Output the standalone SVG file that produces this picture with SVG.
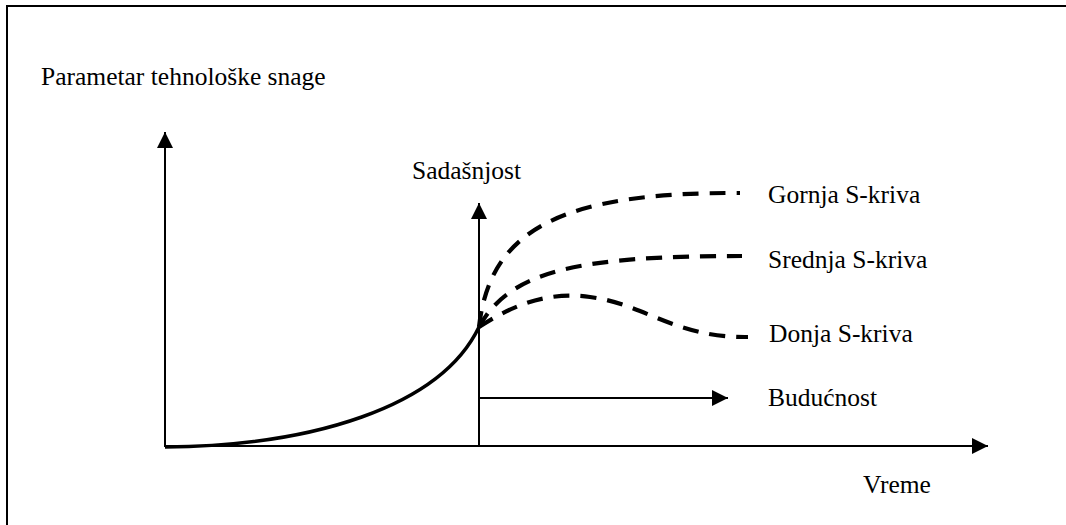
<svg xmlns="http://www.w3.org/2000/svg" width="1066" height="525" viewBox="0 0 1066 525">
  <style>
    text { font-family: "Liberation Serif", "DejaVu Serif", "Times New Roman", Times, serif; font-size: 25.5px; fill: #000; }
    .axis { stroke: #000; stroke-width: 2; fill: none; }
    .solid { stroke: #000; stroke-width: 3.5; fill: none; }
    .dash { stroke: #000; stroke-width: 4.2; fill: none; stroke-dasharray: 16 11; }
  </style>
  <defs>
    <marker id="arrow" viewBox="0 0 16 16" refX="16" refY="8" markerWidth="16" markerHeight="16" markerUnits="userSpaceOnUse" orient="auto">
      <path d="M0,0 L16,8 L0,16 Z" fill="#000"/>
    </marker>
  </defs>

  <rect x="0" y="0" width="1066" height="525" fill="#fff"/>
  <!-- outer frame (cropped at right and bottom) -->
  <rect x="7" y="6" width="1100" height="560" fill="none" stroke="#000" stroke-width="2"/>

  <g id="connectors">
    <!-- axes -->
    <line id="y-axis" class="axis" x1="165" y1="447" x2="165" y2="132" marker-end="url(#arrow)"/>
    <line id="x-axis" class="axis" x1="164" y1="446" x2="988" y2="446" marker-end="url(#arrow)"/>
    <!-- present marker and future arrow -->
    <line id="present" class="axis" x1="479" y1="446" x2="479" y2="203" marker-end="url(#arrow)"/>
    <line id="future" class="axis" x1="479" y1="398" x2="728" y2="398" marker-end="url(#arrow)"/>
    <!-- historical growth curve -->
    <path id="history" class="solid" d="M165,447 C310,446 440,408 479,327"/>
    <!-- projected S-curves -->
    <path id="upper" class="dash" d="M479,327 C490,230 560,192 740,193"/>
    <path id="middle" class="dash" d="M479,327 C510,270 580,256 742,256"/>
    <path id="lower" class="dash" d="M479,327 C520,300 555,292 590,297 C645,304 675,338 748,337"/>
  </g>

  <g id="label-y"><text x="41" y="85" font-family="Liberation Serif, serif">Parametar tehnološke snage</text></g>
  <g id="label-present"><text x="412" y="179" font-family="Liberation Serif, serif">Sadašnjost</text></g>
  <g id="label-upper"><text x="768" y="203" font-family="Liberation Serif, serif">Gornja S-kriva</text></g>
  <g id="label-middle"><text x="768" y="268" font-family="Liberation Serif, serif">Srednja S-kriva</text></g>
  <g id="label-lower"><text x="769" y="342" font-family="Liberation Serif, serif">Donja S-kriva</text></g>
  <g id="label-future"><text x="768" y="406" font-family="Liberation Serif, serif">Budućnost</text></g>
  <g id="label-x"><text x="863" y="493" font-family="Liberation Serif, serif">Vreme</text></g>
</svg>
